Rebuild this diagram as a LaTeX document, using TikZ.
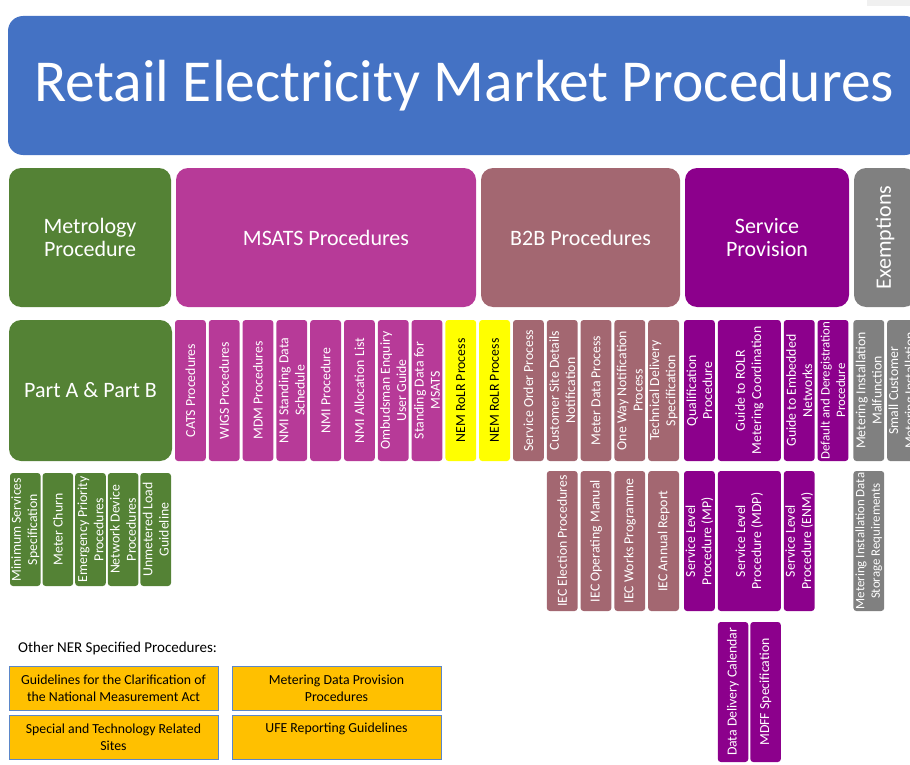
\documentclass[tikz,border=0pt]{standalone}
\usepackage{fontspec}
\setmainfont{Carlito}
\usetikzlibrary{positioning}

\definecolor{titleblue}{HTML}{4472C4}
\definecolor{metgreen}{HTML}{548235}
\definecolor{msatsmag}{HTML}{B73A98}
\definecolor{btbmauve}{HTML}{A36771}
\definecolor{servpurple}{HTML}{8C008C}
\definecolor{exgray}{HTML}{808080}
\definecolor{rolryellow}{HTML}{FFFF00}
\definecolor{nerorange}{HTML}{FFC000}
\definecolor{nerborder}{HTML}{5B87C9}
\definecolor{stripgray}{HTML}{F0F0F0}

\tikzset{
  groupbox/.style={fill=#1, rounded corners=12pt, inner sep=0pt, outer sep=0pt, minimum height=139pt,
    text=white, align=center, font=\fontsize{22}{23}\selectfont},
  docbox/.style={fill=#1, rounded corners=3pt, inner sep=0pt, outer sep=0pt, minimum width=30.8pt,
    minimum height=141pt},
  vtext/.style={rotate=90, align=center, inner sep=0pt, text=white, font=\fontsize{13.8}{16.2}\selectfont},
  nerbox/.style={fill=nerorange, draw=nerborder, line width=1pt, minimum width=209pt, outer sep=0pt,
    minimum height=44pt, inner sep=0pt, align=center, font=\fontsize{13.8}{17}\selectfont}
}

\begin{document}
\begin{tikzpicture}[x=1pt, y=-1pt]
  \useasboundingbox (0,0) rectangle (910,765);
  \clip (0,0) rectangle (910,765);
  \fill[stripgray] (867,0) rectangle (910,6);

  % title
  \node (title) [groupbox=titleblue, rounded corners=15pt, minimum width=912pt, anchor=north west,
    font=\fontsize{59.5}{62}\selectfont] at (8,16) {Retail Electricity Market Procedures};

  % procedure groups
  \node (metro) [groupbox=metgreen, minimum width=162pt, anchor=north west] at (9,168) {Metrology\\Procedure};
  \node (msats) [groupbox=msatsmag, minimum width=300pt, right=5pt of metro] {MSATS Procedures};
  \node (btb) [groupbox=btbmauve, minimum width=199pt, right=5pt of msats] {B2B Procedures};
  \node (serv) [groupbox=servpurple, minimum width=164pt, right=5pt of btb] {Service\\Provision};
  \node (exempt) [groupbox=exgray, minimum width=62pt, right=5pt of serv] {};
  \node [vtext, font=\fontsize{22}{23}\selectfont] at (exempt) {Exemptions};

  % documents
  \node (parts) [groupbox=metgreen, minimum width=163pt, minimum height=141pt,
    anchor=north west] at (9,320) {Part A \& Part B};
  \node (cats) [docbox=msatsmag, right=3pt of parts, label={[vtext]center:CATS Procedures}] {};
  \node (wigs) [docbox=msatsmag, right=3pt of cats, label={[vtext]center:WIGS Procedures}] {};
  \node (mdm) [docbox=msatsmag, right=3pt of wigs, label={[vtext]center:MDM Procedures}] {};
  \node (nmisds) [docbox=msatsmag, right=3pt of mdm, label={[vtext]center:NMI Standing Data\\Schedule}] {};
  \node (nmiproc) [docbox=msatsmag, right=3pt of nmisds, label={[vtext]center:NMI Procedure}] {};
  \node (nmialloc) [docbox=msatsmag, right=3pt of nmiproc, label={[vtext]center:NMI Allocation List}] {};
  \node (ombud) [docbox=msatsmag, right=3pt of nmialloc, label={[vtext]center:Ombudsman Enquiry\\User Guide}] {};
  \node (standing) [docbox=msatsmag, right=3pt of ombud, label={[vtext]center:Standing Data for\\MSATS}] {};
  \node (rolra) [docbox=rolryellow, right=3pt of standing, label={[vtext, text=black]center:NEM RoLR Process}] {};
  \node (rolrb) [docbox=rolryellow, right=3pt of rolra, label={[vtext, text=black]center:NEM RoLR Process}] {};
  \node (sop) [docbox=btbmauve, right=3pt of rolrb, label={[vtext]center:Service Order Process}] {};
  \node (csdn) [docbox=btbmauve, right=3pt of sop, label={[vtext]center:Customer Site Details\\Notification}] {};
  \node (mdp) [docbox=btbmauve, right=3pt of csdn, label={[vtext]center:Meter Data Process}] {};
  \node (ownp) [docbox=btbmauve, right=3pt of mdp, label={[vtext]center:One Way Notification\\Process}] {};
  \node (tds) [docbox=btbmauve, right=3pt of ownp, label={[vtext]center:Technical Delivery\\Specification}] {};
  \node (qual) [docbox=servpurple, right=5pt of tds, label={[vtext]center:Qualification\\Procedure}] {};
  \node (rolrguide) [docbox=servpurple, minimum width=63pt, right=3pt of qual,
    label={[vtext]center:Guide to ROLR\\Metering Coordination}] {};
  \node (embed) [docbox=servpurple, right=3pt of rolrguide, label={[vtext]center:Guide to Embedded\\Networks}] {};
  \node (dereg) [docbox=servpurple, right=3pt of embed,
    label={[vtext, font=\fontsize{12.9}{15.5}\selectfont]center:Default and Deregistration\\Procedure}] {};
  \node (malf) [docbox=exgray, right=5pt of dereg, label={[vtext]center:Metering Installation\\Malfunction}] {};
  \node (smallcust) [docbox=exgray, right=3pt of malf, label={[vtext]center:Small Customer\\Metering Installation}] {};

  % metrology documents
  \node (minserv) [docbox=metgreen, minimum width=30.6pt, minimum height=113pt, anchor=north west,
    label={[vtext]center:Minimum Services\\Specification}] at (10,473) {};
  \node (churn) [docbox=metgreen, minimum width=30.6pt, minimum height=113pt, right=2pt of minserv,
    label={[vtext]center:Meter Churn}] {};
  \node (emerg) [docbox=metgreen, minimum width=30.6pt, minimum height=113pt, right=2pt of churn,
    label={[vtext]center:Emergency Priority\\Procedures}] {};
  \node (netdev) [docbox=metgreen, minimum width=30.6pt, minimum height=113pt, right=2pt of emerg,
    label={[vtext]center:Network Device\\Procedures}] {};
  \node (unmet) [docbox=metgreen, minimum width=30.6pt, minimum height=113pt, right=2pt of netdev,
    label={[vtext]center:Unmetered Load\\Guideline}] {};

  % second level documents
  \node (iecelect) [docbox=btbmauve, minimum height=140pt, below=10pt of csdn,
    label={[vtext]center:IEC Election Procedures}] {};
  \node (iecop) [docbox=btbmauve, minimum height=140pt, below=10pt of mdp,
    label={[vtext]center:IEC Operating Manual}] {};
  \node (iecworks) [docbox=btbmauve, minimum height=140pt, below=10pt of ownp,
    label={[vtext]center:IEC Works Programme}] {};
  \node (iecannual) [docbox=btbmauve, minimum height=140pt, below=10pt of tds,
    label={[vtext]center:IEC Annual Report}] {};
  \node (slmp) [docbox=servpurple, minimum height=140pt, below=10pt of qual,
    label={[vtext]center:Service Level\\Procedure (MP)}] {};
  \node (slmdp) [docbox=servpurple, minimum width=63pt, minimum height=140pt, below=10pt of rolrguide,
    label={[vtext]center:Service Level\\Procedure (MDP)}] {};
  \node (slenm) [docbox=servpurple, minimum height=140pt, below=10pt of embed,
    label={[vtext]center:Service Level\\Procedure (ENM)}] {};
  \node (mids) [docbox=exgray, minimum height=140pt, below=10pt of malf,
    label={[vtext, font=\fontsize{12.9}{15.5}\selectfont]center:Metering Installation Data\\Storage Requirements}] {};
  \node (ddc) [docbox=servpurple, minimum width=30.5pt, minimum height=140pt, below=11pt of slmdp.south west,
    anchor=north west, label={[vtext]center:Data Delivery Calendar}] {};
  \node (mdff) [docbox=servpurple, minimum width=30.5pt, minimum height=140pt, right=2pt of ddc,
    label={[vtext]center:MDFF Specification}] {};

  % other NER procedures
  \node (nerlabel) [anchor=west, inner sep=0pt, font=\fontsize{15}{17}\selectfont] at (18,648) {Other NER Specified Procedures:};
  \node (gcnma) [nerbox, anchor=north west] at (9,666) {Guidelines for the Clarification of\\the National Measurement Act};
  \node (mdpp) [nerbox, right=14pt of gcnma] {Metering Data Provision\\Procedures};
  \node (strs) [nerbox, below=5pt of gcnma] {Special and Technology Related\\Sites};
  \node (ufe) [nerbox, text depth=18pt, right=14pt of strs] {UFE Reporting Guidelines};
\end{tikzpicture}
\end{document}
